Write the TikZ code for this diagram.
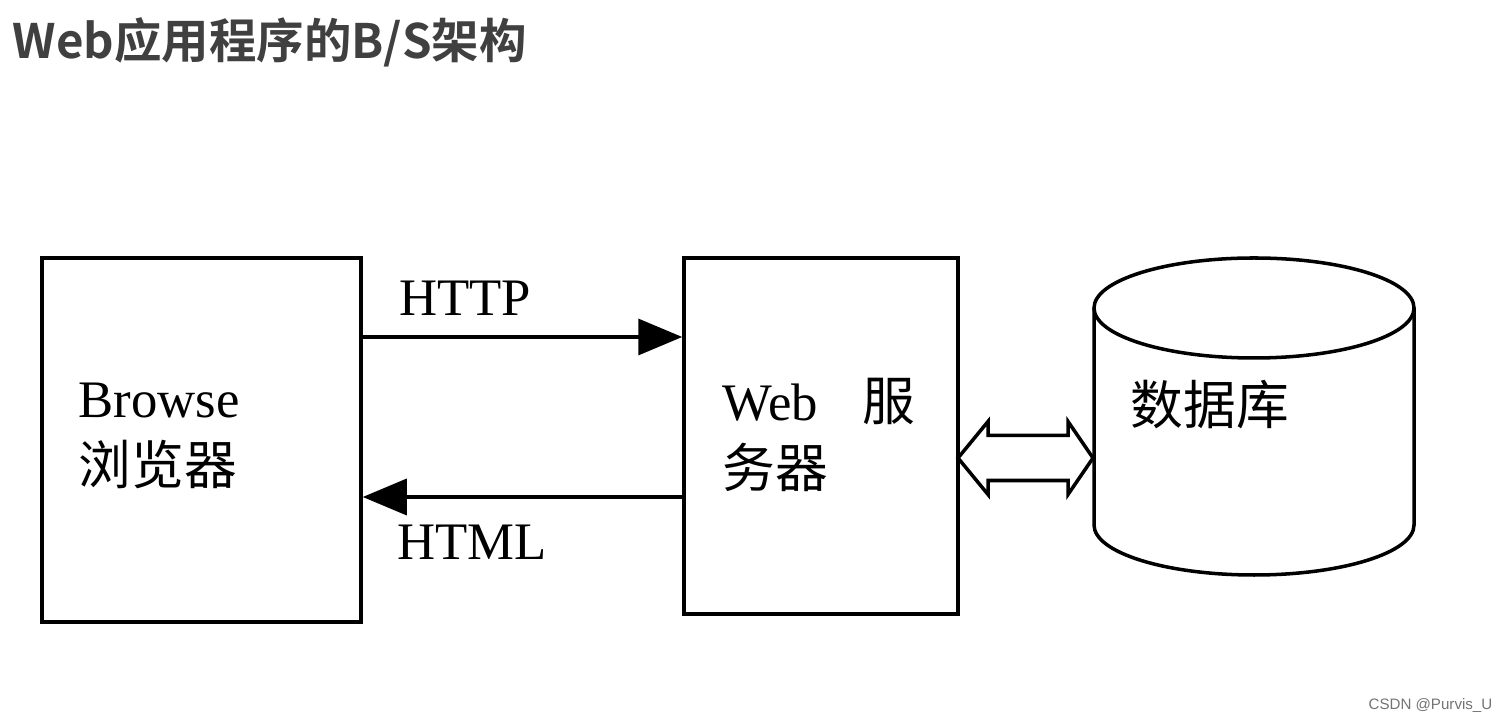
\documentclass[tikz,border=0pt]{standalone}
\usepackage{fontspec}
\setmainfont{Liberation Serif}
\newfontfamily\cjk{Noto Sans CJK SC}
\newfontfamily\cjkbold{Noto Sans CJK SC Bold}
\newfontfamily\marksans{Liberation Sans}
\usetikzlibrary{positioning,arrows.meta,calc}

\begin{document}
\begin{tikzpicture}[
  box/.style={draw, line width=1pt, inner sep=0pt},
  lbl/.style={font=\fontsize{15}{19}\selectfont, align=left, inner sep=0pt},
  arrow/.style={-{Triangle[length=4.4mm, width=3.6mm]}, line width=1pt},
]
\useasboundingbox (0,0) rectangle (15.07,7.22);

% === Title ===
\node[anchor=west, inner sep=0pt, text=black!75, font=\cjkbold\fontsize{13.5}{16}\selectfont] (title) at (0.12,6.80) {Web应用程序的B/S架构};

% === Browser and server ===
\node[box, minimum width=3.19cm, minimum height=3.64cm] (browser) at (2.015,2.82) {};
\node[box, minimum width=2.74cm, minimum height=3.56cm] (web) at (8.21,2.86) {};
\node[lbl, anchor=west] (browsertxt) at (0.78,2.86) {Browse\\{\cjk 浏览器}};
\node[lbl, anchor=west] (webtxt) at (7.22,2.87) {Web\hspace{0.85em}{\cjk 服}\\{\cjk 务器}};

% === Request / response ===
\coordinate (httpy) at (0,3.85);
\coordinate (htmly) at (0,2.25);
\draw[arrow] (browser.east |- httpy) -- (web.west |- httpy);
\draw[arrow] (web.west |- htmly) -- (browser.east |- htmly);
\node[lbl] (http) at (4.65,4.24) {HTTP};
\node[lbl] (html) at (4.72,1.80) {HTML};

% === Database (cylinder) ===
\draw[line width=1pt] (10.94,4.14) -- (10.94,1.97) arc[start angle=180, end angle=360, x radius=1.60cm, y radius=0.50cm] -- (14.14,4.14);
\draw[line width=1pt] (12.54,4.14) ellipse[x radius=1.60cm, y radius=0.50cm];
\node[lbl, anchor=west, font=\cjk\fontsize{15}{19}\selectfont] (db) at (11.30,3.17) {数据库};

% === Two-way link server <-> database ===
\draw[line width=1pt, fill=white] (9.58,2.64) -- (9.88,3.005) -- (9.88,2.865) -- (10.68,2.865) -- (10.68,3.005)
  -- (10.93,2.64) -- (10.68,2.275) -- (10.68,2.415) -- (9.88,2.415) -- (9.88,2.275) -- cycle;

% === Watermark ===
\node[anchor=east, inner sep=0pt, text=black!55, font=\marksans\fontsize{4.3}{5}\selectfont] (mark) at (14.93,0.16) {CSDN @Purvis\_U};

\end{tikzpicture}
\end{document}
